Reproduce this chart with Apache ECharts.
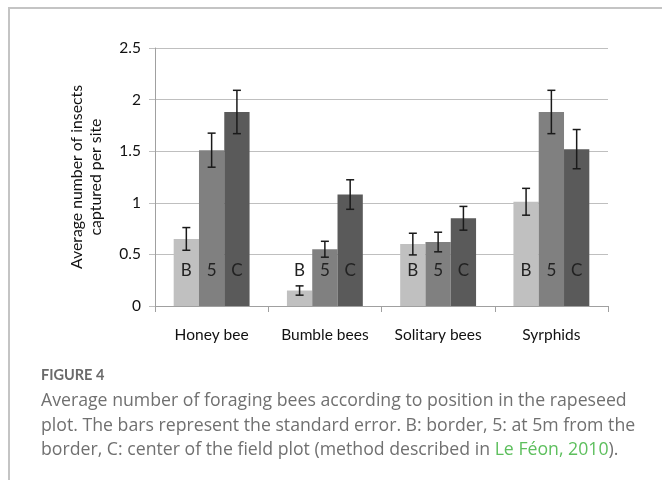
<!DOCTYPE html>
<html>
<head>
<meta charset="utf-8">
<script src="https://cdn.jsdelivr.net/npm/echarts@6/dist/echarts.min.js"></script>
<style>
  html, body { margin: 0; padding: 0; background: #fff; }
  #wrap { position: relative; width: 662px; height: 480px; overflow: hidden; }
  #frame { position: absolute; left: 8px; top: 7px; right: -10px; bottom: -10px;
           border-top: 2px solid #c4c4c4; border-left: 2px solid #c4c4c4; }
  #chart { position: absolute; left: 0; top: 0; width: 662px; height: 480px; }
  #fig { position: absolute; left: 41px; top: 366px; font-family: Lato, 'Open Sans', sans-serif;
         font-weight: bold; font-size: 14.5px; color: #6a6a6a; }
  #caption { position: absolute; left: 41px; top: 387px; font-family: 'Open Sans', Lato, sans-serif;
             font-size: 17.7px; line-height: 24.5px; color: #707070; white-space: nowrap; }
  #caption span { color: #5dbf5d; }
</style>
</head>
<body>
<div id="wrap">
  <div id="frame"></div>
  <div id="chart"></div>
  <div id="fig">FIGURE 4</div>
  <div id="caption">Average number of foraging bees according to position in the rapeseed<br>plot. The bars represent the standard error. B: border, 5: at 5m from the<br>border, C: center of the field plot (method described in <span>Le Féon, 2010</span>).</div>
</div>
<script>
var categories = ['Honey bee', 'Bumble bees', 'Solitary bees', 'Syrphids'];
var seriesNames = ['B', '5', 'C'];
var border = [0.65, 0.15, 0.60, 1.01];
var at5m = [1.51, 0.55, 0.62, 1.88];
var center = [1.88, 1.08, 0.85, 1.52];
var borderErr = [0.11, 0.045, 0.105, 0.13];
var at5mErr = [0.165, 0.077, 0.095, 0.21];
var centerErr = [0.21, 0.143, 0.115, 0.19];

var values = [border, at5m, center];
var errors = [borderErr, at5mErr, centerErr];
var colors = ['#c0c0c0', '#808080', '#5a5a5a'];
var gapRatio = 0.33;

var myChart = echarts.init(document.getElementById('chart'));

var series = [];
values.forEach(function (vals, i) {
    series.push({
        name: seriesNames[i],
        type: 'bar',
        data: vals,
        barGap: 0,
        barCategoryGap: '33%',
        itemStyle: { color: colors[i] },
        label: {
            show: true,
            position: 'insideBottom',
            distance: 27,
            formatter: seriesNames[i],
            fontFamily: 'Lato, sans-serif',
            fontSize: 17,
            color: '#222'
        },
        silent: true
    });
});

values.forEach(function (vals, i) {
    series.push({
        type: 'custom',
        silent: true,
        z: 10,
        data: vals.map(function (v, j) { return [j, v - errors[i][j], v + errors[i][j]]; }),
        renderItem: function (params, api) {
            var cat = api.value(0);
            var lo = api.coord([cat, api.value(1)]);
            var hi = api.coord([cat, api.value(2)]);
            var bw = api.size([1, 0])[0] * (1 - gapRatio) / 3;
            var x = lo[0] + (i - 1) * bw;
            var cap = 4;
            var style = { stroke: '#1a1a1a', lineWidth: 1.5 };
            return {
                type: 'group',
                children: [
                    { type: 'line', shape: { x1: x, y1: hi[1], x2: x, y2: lo[1] }, style: style },
                    { type: 'line', shape: { x1: x - cap, y1: hi[1], x2: x + cap, y2: hi[1] }, style: style },
                    { type: 'line', shape: { x1: x - cap, y1: lo[1], x2: x + cap, y2: lo[1] }, style: style }
                ]
            };
        }
    });
});

myChart.setOption({
    animation: false,
    grid: { left: 155, right: 54, top: 48, bottom: 174 },
    xAxis: {
        type: 'category',
        data: categories,
        axisLine: { lineStyle: { color: '#a0a0a0', width: 1 } },
        axisTick: { show: true, length: 6, lineStyle: { color: '#a0a0a0' } },
        axisLabel: { interval: 0, margin: 21, fontFamily: 'Lato, sans-serif', fontSize: 15.5, color: '#111' }
    },
    yAxis: {
        type: 'value',
        min: 0,
        max: 2.5,
        interval: 0.5,
        name: 'Average number of insects\ncaptured per site',
        nameLocation: 'middle',
        nameRotate: 90,
        nameGap: 49,
        nameTextStyle: { fontFamily: 'Lato, sans-serif', fontSize: 15.8, lineHeight: 19.5, color: '#111' },
        axisLine: { show: true, lineStyle: { color: '#a0a0a0', width: 1 } },
        axisTick: { show: true, length: 6, lineStyle: { color: '#bfbfbf' } },
        splitLine: { lineStyle: { color: '#bfbfbf', width: 1 } },
        axisLabel: { margin: 14, fontFamily: 'Lato, sans-serif', fontSize: 15.5, color: '#111' }
    },
    series: series
});

window.addEventListener('resize', function () {
    myChart.resize();
});
</script>
</body>
</html>
